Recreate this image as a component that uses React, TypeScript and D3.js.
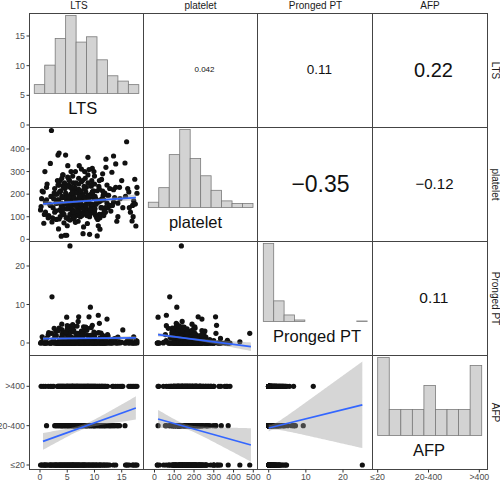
import React from "react";
import * as d3 from "d3";

// ---------- variables ----------
const varNames = ["LTS", "platelet", "Pronged PT", "AFP"];
const afpLevels = ["≤20", "20-400", ">400"];

// ---------- observations, grouped by AFP level ----------
// AFP > 400
const ltsAfpHigh = [0.2,0.6,1.0,1.5,1.9,2.2,2.5,3.3,3.6,3.9,4.2,4.4,4.7,5.0,5.2,5.4,5.7,5.9,6.1,6.3,6.6,6.8,7.0,7.2,7.5,7.7,8.0,8.3,8.5,8.8,9.1,9.4,9.7,10.0,10.3,10.6,10.9,11.2,11.5,11.8,12.1,12.4,13.3,13.5,13.9,14.3,14.7,15.0,15.2,16.3,16.6,16.9,17.2,17.5,17.8,3.5,4.9,6.0,6.9,8.1,9.0,9.9,5.5,4.0,7.9,3.2,11.0,6.4,5.1,8.7,
  3.4,3.8,4.1,4.5,4.8,5.3,5.6,5.8,6.2,6.5,6.7,7.1,7.4,7.8,8.2,8.4,8.9,9.2,9.5,9.8,10.2,10.5,10.8,11.3,11.7,12.0,4.3,5.0,6.0,7.3,8.6,9.3,10.1,3.7,5.9,7.6,8.8,11.4,6.8,9.6];
const plateletAfpHigh = [145,210,120,95,336,77,180,240,130,160,285,110,205,60,150,232,300,125,190,98,250,170,140,326,215,105,180,270,135,363,22,200,118,245,155,88,222,175,290,128,355,195,150,369,230,100,180,260,140,210,120,81,170,156,230,382,18,210,115,235,165,300,85,190,140,260,45,160,275,70,
  175,215,140,250,95,190,160,230,120,205,145,270,170,110,225,150,195,130,260,185,105,215,165,140,200,120,230,165,280,190,115,240,135,100,205,155,285,180,125,210];
const ptAfpHigh = [0,0.5,0,2.1,0,12.0,0.8,3.2,0,1.4,0,2.8,0.3,4.5,0,1.9,0,3.6,0,0.9,2.4,0,5.6,0,1.1,0,3.0,0,0.6,0,0,4.0,0,1.7,0,2.6,0,0.4,0,1.3,0,2.2,0,0.7,0,1.5,0,0.2,3.4,0,0.9,0,1.6,0,0.5,0,6.7,0,2.0,0,0.3,0,0,4.9,0,0,0,0.8,0,3.8,
  0,0.4,1.8,0,2.9,0,0.7,0,3.3,0,1.2,0,0.5,2.3,0,4.1,0,0.9,0,1.6,0,0.3,2.7,0,0,1.1,0,3.7,0,0.6,0,2.0,0,0,1.4,0,0.2,0,4.4,0];
// AFP 20-400
const ltsAfpMid = [1.2,2.7,3.1,3.5,3.9,4.3,4.8,5.1,5.5,5.8,6.2,6.5,6.9,7.1,7.4,7.8,8.2,8.6,9.0,9.25,9.6,10.0,10.4,10.7,11.1,11.5,11.9,12.3,12.8,13.2,13.7,14.1,14.6,15.6,3.3,4.6,6.0,8.0,5.3,7.6,
  2.9,3.7,4.1,4.5,5.0,5.6,6.0,6.4,6.7,7.3,7.7,8.4,8.8,9.3,9.8,10.2,10.9,11.3,12.0,12.6,13.0,13.5,14.3,5.2,6.3,7.0,8.5,9.9,4.0,11.7];
const plateletAfpMid = [175,120,200,90,150,240,135,180,110,225,160,75,205,221,100,260,130,190,309,113,155,280,95,60,170,214,120,240,150,297,185,80,230,338,373,18,204,55,266,311,
  160,210,125,185,240,145,100,230,170,120,200,155,250,135,215,180,110,265,140,195,125,220,160,90,185,150,230,130,270,105];
const ptAfpMid = [0,1.8,0,3.9,0.6,0,2.9,0,4.3,0,1.2,0,2.5,6.8,0,1.5,0,3.3,6.8,9.3,0,0.9,0,7.2,0,2.0,0,6.2,0.4,0,1.1,0,0.3,0,0,0,4.2,2.2,0.5,2.5,
  0,0.5,2.4,0,1.3,0,3.6,0,0.8,0,2.1,0,0.3,0,1.7,0,5.1,0,0.6,0,0,1.0,0,3.0,0,0.4,0,2.8,0,1.5];
// AFP <= 20
const ltsAfpLow = [0.1,0.4,0.7,1.0,1.3,1.6,2.0,2.1,2.4,2.7,3.0,3.2,3.4,3.7,4.0,4.2,4.5,4.8,5.0,5.3,5.5,5.8,6.0,6.3,6.5,6.8,7.0,7.3,7.6,7.9,8.1,8.4,8.7,9.1,9.4,9.8,10.1,10.5,10.9,11.3,11.7,12.1,12.5,12.8,13.5,15.7,15.9,16.4,17.4,17.1,17.6,17.8,0.9,1.8,2.9,3.6,4.4,5.1,5.6,6.1,6.7,7.2,7.7,8.2,8.9,9.6,10.3,11.0,11.9,3.9,4.7,13.9,
  0.3,0.8,1.2,1.9,2.3,2.6,3.1,3.5,3.8,4.1,4.3,4.6,4.9,5.2,5.4,5.7,5.9,6.2,6.4,6.6,6.9,7.1,7.4,7.8,8.0,8.3,8.6,9.0,9.3,9.7,10.0,10.4,10.8,11.2,11.6,12.3,16.1,17.0,2.8,6.0];
const plateletAfpLow = [130,214,71,165,245,105,190,482,140,225,88,175,46,260,120,285,155,200,95,240,136,180,115,220,300,150,80,195,255,25,128,210,170,100,235,145,190,15,260,110,175,319,140,225,165,190,432,140,266,100,59,204,300,155,126,210,73,326,165,250,105,185,140,300,125,314,160,95,205,14,373,334,
  180,110,230,150,95,205,160,240,130,185,110,225,170,135,260,200,150,90,215,175,125,245,160,195,140,230,105,180,150,210,120,175,235,140,195,160,225,150,200,130];
const ptAfpLow = [0,1.6,0,0.4,0,2.7,0,2.5,0.8,0,1.9,0,0.2,0,3.5,0,1.0,0,2.3,0,25.2,0,4.8,0,0.6,0,1.4,0,3.1,0,0.7,0,2.0,0,0.3,0,1.2,0,0,0.5,0,0,1.8,0,0.4,0,0.3,0,0,0,0.6,0,0,0,3.0,0,0,0,1.6,0,0.9,0,0,0.2,0,4.6,0,1.3,0,0,0,1.2,
  0.3,0,1.2,0,0,3.8,0,0.5,0,2.2,0,0,1.1,0,0.4,0,2.9,0,0,0.8,0,1.5,0,0,4.2,0,0.6,0,1.9,0,0,0.3,0,2.6,0,0,0.7,0,0,1.0];

// ---------- diagonal histograms ----------
const ltsHistRange = [-1.05, 18.14];
const ltsHistCounts = [5, 16, 31, 44, 29, 32, 19, 10, 7, 5];
const plateletHistRange = [-31.4, 498.5];
const plateletHistCounts = [4, 15, 40, 59, 37, 24, 13, 5, 3, 3];
const ptHistRange = [-1.45, 26.5];
const ptHistCounts = [155, 41, 13, 3, 0, 0, 0, 0, 0, 1];
const afpHistRange = [1.0, 3.047];
const afpHistCounts = [39, 13, 13, 13, 25, 13, 13, 13, 35];

// ---------- correlations (upper panels) ----------
const corrRow1 = ["0.042", "0.11", "0.22"];
const corrRow2 = ["−0.35", "−0.12"];
const corrRow3 = ["0.11"];

// ---------- tick values ----------
const ltsTicks = [0, 5, 10, 15];
const plateletYTicks = [0, 100, 200, 300, 400];
const plateletXTicks = [0, 100, 200, 300, 400, 500];
const ptTicks = [0, 10, 20];
const afpTicks = [1, 2, 3];

// ---------- linear smooth fits ----------
// [x0, x1, fit at x0, fit at x1, x of narrowest band, half width at x0, at narrowest, at x1]
const fitLtsPlatelet = [0.55, 17.6, 157, 185, 7.2, 12, 5, 14];
const fitLtsPt = [0.55, 17.6, 1.12, 1.35, 7.2, 0.45, 0.2, 0.5];
const fitPlateletPt = [18, 488, 2.16, -0.96, 165, 0.5, 0.2, 1.1];
const fitLtsAfp = [0.55, 17.6, 1.6, 2.45, 8.0, 0.215, 0.06, 0.295];
const fitPlateletAfp = [18, 488, 2.17, 1.51, 160, 0.23, 0.06, 0.425];
const fitPtAfp = [0, 25.2, 1.94, 2.53, 0.8, 0.09, 0.07, 1.1];

// ---------- layout ----------
const panelX = [29.5, 143.5, 257.5, 372.5, 487.5];
const panelY = [13.5, 127.5, 241.5, 355.5, 469.5];
const colDomains = [[-1.928, 19.0], [-55.67, 521.3], [-3.015, 27.94], [0.898, 3.161]];
const rowDomains = [[-0.421, 18.79], [-9.75, 495.2], [-3.247, 26.36], [0.886, 3.783]];
const diagLabelX = [82.7, 195.5, 317, 429];
const corrFont = [[8, 13.5, 20], [23, 15], [15.5]];
const corrPos = [[[204.5, 69.8], [319.5, 69.8], [433.5, 69.8]], [[320.5, 183.5], [434.5, 183.8]], [[433.8, 297.8]]];
const topLabelX = [79, 200.5, 315.5, 430];
const FONT = "'Liberation Sans', Arial, Helvetica, sans-serif";

export default function App() {
  const lts = [...ltsAfpLow, ...ltsAfpMid, ...ltsAfpHigh];
  const platelet = [...plateletAfpLow, ...plateletAfpMid, ...plateletAfpHigh];
  const pt = [...ptAfpLow, ...ptAfpMid, ...ptAfpHigh];
  const afp = [
    ...ltsAfpLow.map(() => 1),
    ...ltsAfpMid.map(() => 2),
    ...ltsAfpHigh.map(() => 3),
  ];
  const vars = [lts, platelet, pt, afp];

  const xS = colDomains.map((d, c) => d3.scaleLinear().domain(d).range([panelX[c], panelX[c + 1]]));
  const yS = rowDomains.map((d, r) => d3.scaleLinear().domain(d).range([panelY[r + 1], panelY[r]]));

  const fits: Record<string, number[]> = {
    "1-0": fitLtsPlatelet,
    "2-0": fitLtsPt,
    "2-1": fitPlateletPt,
    "3-0": fitLtsAfp,
    "3-1": fitPlateletAfp,
    "3-2": fitPtAfp,
  };
  const hists = [
    { range: ltsHistRange, counts: ltsHistCounts },
    { range: plateletHistRange, counts: plateletHistCounts },
    { range: ptHistRange, counts: ptHistCounts },
    { range: afpHistRange, counts: afpHistCounts },
  ];
  const corrs = [corrRow1, corrRow2, corrRow3];

  const tickVals = [ltsTicks, plateletYTicks, ptTicks, afpTicks];
  const xTickVals = [ltsTicks, plateletXTicks, ptTicks, afpTicks];
  const fmt = (i: number, v: number) => (i === 3 ? afpLevels[v - 1] : String(v));

  const panels: React.ReactNode[] = [];

  for (let r = 0; r < 4; r++) {
    for (let c = 0; c < 4; c++) {
      const key = `${r}-${c}`;
      const x0 = panelX[c], x1 = panelX[c + 1], y0 = panelY[r], y1 = panelY[r + 1];
      const content: React.ReactNode[] = [];
      if (r > c) {
        const xs = vars[c], ys = vars[r];
        const xScale = xS[c], yScale = yS[r];
        content.push(
          <g key="pts">
            {xs.map((v, i) => (
              <circle key={i} cx={xScale(v)} cy={yScale(ys[i])} r={2.6} fill="#111" />
            ))}
          </g>
        );
        const f = fits[key];
        if (f) {
          const [fx0, fx1, fy0, fy1, xm, h0, hm, h1] = f;
          const kL = (h0 * h0 - hm * hm) / ((fx0 - xm) * (fx0 - xm) || 1);
          const kR = (h1 * h1 - hm * hm) / ((fx1 - xm) * (fx1 - xm) || 1);
          const xsamp = d3.range(0, 61).map((i) => fx0 + ((fx1 - fx0) * i) / 60);
          const fit = (x: number) => fy0 + ((fy1 - fy0) * (x - fx0)) / (fx1 - fx0);
          const half = (x: number) => Math.sqrt(hm * hm + (x < xm ? kL : kR) * (x - xm) * (x - xm));
          const area = d3
            .area<number>()
            .x((x) => xScale(x))
            .y0((x) => yScale(fit(x) - half(x)))
            .y1((x) => yScale(fit(x) + half(x)));
          const line = d3
            .line<number>()
            .x((x) => xScale(x))
            .y((x) => yScale(fit(x)));
          content.push(<path key="band" d={area(xsamp) || ""} fill="#999999" fillOpacity={0.4} />);
          content.push(<path key="line" d={line([fx0, fx1]) || ""} fill="none" stroke="#3366FF" strokeWidth={1.7} />);
        }
      } else if (r === c) {
        const h = hists[c];
        const n = h.counts.length;
        const bw = (h.range[1] - h.range[0]) / n;
        const hy = d3.scaleLinear().domain([0, d3.max(h.counts) as number]).range([y0 + 80, y0 + 2]);
        content.push(
          <g key="hist">
            {h.counts.map((cnt, i) => {
              const a = xS[c](h.range[0] + i * bw);
              const b = xS[c](h.range[0] + (i + 1) * bw);
              return (
                <rect key={i} x={a} y={hy(cnt)} width={b - a} height={hy(0) - hy(cnt)} fill="#d3d3d3" stroke="#7a7a7a" strokeWidth={0.8} />
              );
            })}
          </g>
        );
        content.push(
          <text key="lab" x={diagLabelX[c]} y={y0 + 100.8} textAnchor="middle" fontSize={16.5} fill="#111" fontFamily={FONT}>
            {varNames[c]}
          </text>
        );
      } else {
        const txt = corrs[r][c - r - 1];
        const pos = corrPos[r][c - r - 1];
        content.push(
          <text key="cor" x={pos[0]} y={pos[1]} textAnchor="middle" dominantBaseline="central" fontSize={corrFont[r][c - r - 1]} fill="#111" fontFamily={FONT}>
            {txt}
          </text>
        );
      }
      panels.push(
        <g key={key}>
          <clipPath id={`clip-${key}`}>
            <rect x={x0} y={y0} width={x1 - x0} height={y1 - y0} />
          </clipPath>
          <g clipPath={`url(#clip-${key})`}>{content}</g>
        </g>
      );
    }
  }

  const borders: React.ReactNode[] = [];
  for (let r = 0; r < 4; r++)
    for (let c = 0; c < 4; c++)
      borders.push(
        <rect key={`b${r}${c}`} x={panelX[c]} y={panelY[r]} width={panelX[c + 1] - panelX[c]} height={panelY[r + 1] - panelY[r]} fill="none" stroke="#444" strokeWidth={1} />
      );

  const axes: React.ReactNode[] = [];
  for (let r = 0; r < 4; r++) {
    tickVals[r].forEach((v) => {
      const y = yS[r](v);
      axes.push(<line key={`ly${r}-${v}`} x1={26.5} x2={29.5} y1={y} y2={y} stroke="#333" strokeWidth={1} />);
      axes.push(
        <text key={`lt${r}-${v}`} x={25} y={y} dy="0.35em" textAnchor="end" fontSize={8.8} fill="#4d4d4d" fontFamily={FONT}>
          {fmt(r, v)}
        </text>
      );
    });
  }
  for (let c = 0; c < 4; c++) {
    xTickVals[c].forEach((v) => {
      const x = xS[c](v);
      axes.push(<line key={`bx${c}-${v}`} x1={x} x2={x} y1={469.5} y2={472.5} stroke="#333" strokeWidth={1} />);
      axes.push(
        <text key={`bt${c}-${v}`} x={x} y={480} textAnchor="middle" fontSize={8.8} fill="#4d4d4d" fontFamily={FONT}>
          {fmt(c, v)}
        </text>
      );
    });
  }
  const strips = varNames.map((name, i) => (
    <g key={`s${i}`}>
      <text x={topLabelX[i]} y={9} textAnchor="middle" fontSize={10} fill="#1a1a1a" fontFamily={FONT}>
        {name}
      </text>
      <text
        x={495.5}
        y={(panelY[i] + panelY[i + 1]) / 2}
        textAnchor="middle"
        dominantBaseline="central"
        fontSize={10}
        fill="#1a1a1a"
        fontFamily={FONT}
        transform={`rotate(90 495.5 ${(panelY[i] + panelY[i + 1]) / 2})`}
      >
        {name}
      </text>
    </g>
  ));

  return (
    <svg width={500} height={481} style={{ position: "absolute", left: 0, top: 0, background: "#fff" }}>
      <rect x={0} y={0} width={500} height={481} fill="#fff" />
      {panels}
      {borders}
      {axes}
      {strips}
    </svg>
  );
}
